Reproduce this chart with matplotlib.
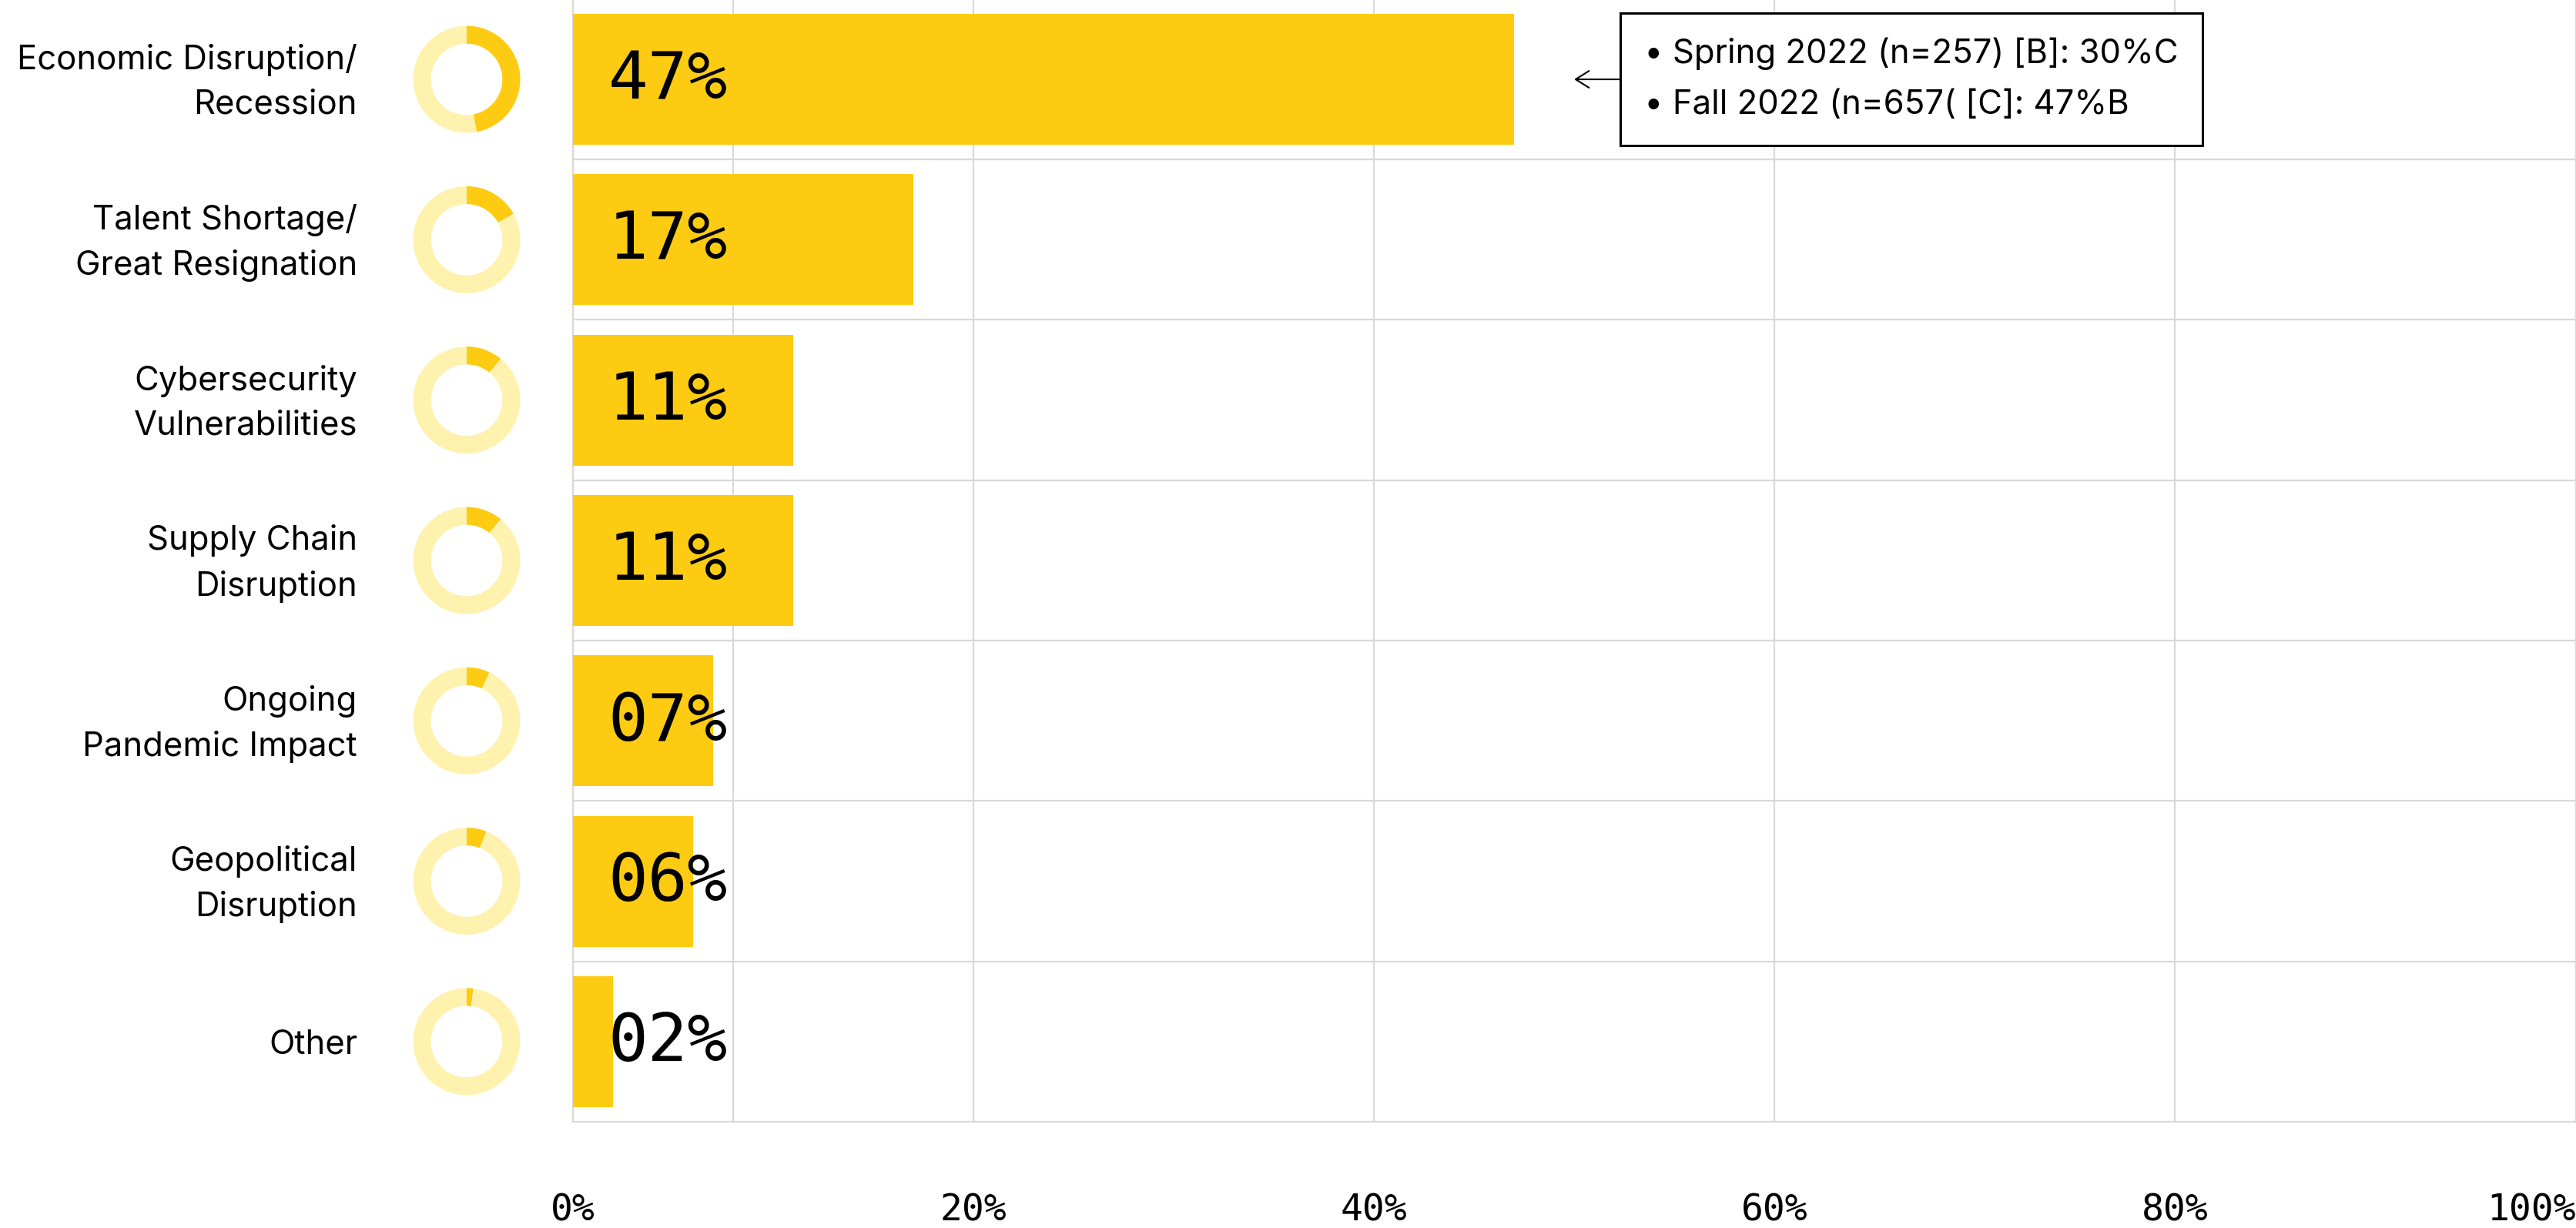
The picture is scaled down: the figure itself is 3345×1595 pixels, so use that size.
import numpy as np
import matplotlib
matplotlib.use("Agg")
import matplotlib.pyplot as plt

# ---- data -------------------------------------------------------------
categories = [
    "Economic Disruption/\nRecession",
    "Talent Shortage/\nGreat Resignation",
    "Cybersecurity\nVulnerabilities",
    "Supply Chain\nDisruption",
    "Ongoing\nPandemic Impact",
    "Geopolitical\nDisruption",
    "Other",
]
shares = [47, 17, 11, 11, 7, 6, 2]
x_ticks = [0, 20, 40, 60, 80, 100]
x_tick_labels = ["0%", "20%", "40%", "60%", "80%", "100%"]
callout_lines = [
    "\u2022 Spring 2022 (n=257) [B]: 30%C",
    "\u2022 Fall 2022 (n=657( [C]: 47%B",
]

# ---- style ------------------------------------------------------------
W, H, DPI = 3345, 1595, 100
PT = 72.0 / DPI                     # points per pixel
YELLOW = "#FDCB12"
PALE = "#FFF2AF"
GRID = "#D9D9D9"
SANS = ["Inter", "DejaVu Sans"]
MONO = ["DejaVu Sans Mono"]

fig = plt.figure(figsize=(W / DPI, H / DPI), dpi=DPI)
fig.patch.set_facecolor("white")

# plot area in pixels
plot_left, plot_right = 743.5, 3344.5
plot_bottom = 1457.0
row_h = 208.3
n = len(categories)
plot_top = plot_bottom - n * row_h

ax = fig.add_axes([plot_left / W, 1 - plot_bottom / H,
                   (plot_right - plot_left) / W, n * row_h / H])
y = np.arange(n)
ax.barh(y, shares, height=0.816, color=YELLOW, zorder=3)
ax.set_xlim(0, 100)
ax.set_ylim(n - 0.5, -0.5)

# grid: vertical lines at the ticks plus one at the label column edge,
# horizontal separators between rows
label_col_edge = 8
ax.set_xticks(x_ticks, x_tick_labels)
ax.set_xticks([label_col_edge], minor=True)
ax.set_yticks(y, [""] * n)
ax.set_yticks(y[:-1] + 0.5, minor=True)
ax.grid(True, which="major", axis="x", color=GRID, lw=1.6)
ax.grid(True, which="minor", axis="both", color=GRID, lw=1.6)
ax.set_axisbelow(True)
ax.tick_params(which="both", length=0)
ax.tick_params(axis="x", pad=92 * PT)
for s in ax.spines.values():
    s.set_color(GRID)
    s.set_linewidth(1.6)

xlabs = ax.get_xticklabels()
for lab in xlabs:
    lab.set_fontfamily(MONO)
    lab.set_fontsize(48 * PT)
# keep the last tick label inside the canvas
xlabs[-1].set_horizontalalignment("right")

# category names, right-aligned left of the donut column
for i, name in enumerate(categories):
    ax.annotate(name, xy=(0, i), xycoords=("axes fraction", "data"),
                xytext=(-279.5 * PT, -4 * PT), textcoords="offset points",
                ha="right", va="center", fontsize=43.6 * PT, family=SANS,
                linespacing=1.52, annotation_clip=False)

# value labels inside the bars
for i, v in enumerate(shares):
    ax.annotate(f"{v:02d}%", xy=(0, i), xytext=(46 * PT, -2 * PT),
                textcoords="offset points", ha="left", va="center",
                fontsize=86 * PT, family=MONO, color="black", zorder=4)

# donut for each row
cx, r_out, ring = 606.0, 69.5, 23.2
for i, v in enumerate(shares):
    cy = plot_top + (i + 0.5) * row_h
    dax = fig.add_axes([(cx - r_out) / W, 1 - (cy + r_out) / H,
                        2 * r_out / W, 2 * r_out / H])
    dax.pie([v, 100 - v], colors=[YELLOW, PALE], startangle=90,
            counterclock=False, radius=1,
            wedgeprops=dict(width=ring / r_out, linewidth=0))
    dax.set_xlim(-1, 1)
    dax.set_ylim(-1, 1)
    dax.set_aspect("equal")
    dax.axis("off")

# callout next to the top bar
ax.annotate("\n".join(callout_lines), xy=(shares[0], 0),
            xytext=(169 * PT, 0), textcoords="offset points",
            ha="left", va="center", fontsize=43.6 * PT, family=SANS,
            linespacing=1.79,
            bbox=dict(boxstyle="square,pad=0.72", fc="white", ec="black", lw=2.2),
            arrowprops=dict(arrowstyle="->,head_length=0.4,head_width=0.25",
                            color="black", lw=1.5, shrinkA=0,
                            shrinkB=78 * PT),
            zorder=5)

fig.savefig("out.png", dpi=DPI)
